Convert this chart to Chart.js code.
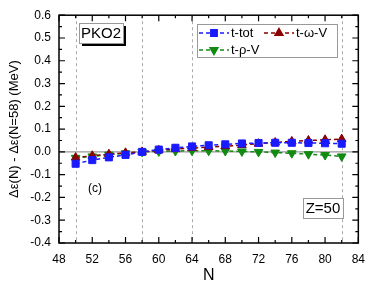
<!DOCTYPE html>
<html>
<head>
<meta charset="utf-8">
<script src="https://cdn.jsdelivr.net/npm/chart.js@4/dist/chart.umd.min.js"></script>
<style>
  body { margin: 0; background: #fff; }
  canvas { display: block; }
</style>
</head>
<body>
<canvas id="chart" width="374" height="285"></canvas>
<script>
var N = [50, 52, 54, 56, 58, 60, 62, 64, 66, 68, 70, 72, 74, 76, 78, 80, 82];
var tTot = [-0.052, -0.036, -0.024, -0.013, 0.0, 0.01, 0.018, 0.024, 0.029, 0.033, 0.037, 0.039, 0.04, 0.04, 0.039, 0.038, 0.036];
var tOmegaV = [-0.025, -0.017, -0.01, -0.004, 0.0, 0.007, 0.012, 0.017, 0.021, 0.025, 0.03, 0.036, 0.041, 0.046, 0.05, 0.053, 0.056];
var tRhoV = [-0.026, -0.02, -0.012, -0.006, 0.0, 0.002, 0.004, 0.005, 0.005, 0.004, 0.002, 0.0, -0.003, -0.006, -0.01, -0.014, -0.02];
var markLines = [50, 58, 64, 82];

function pts(ys) {
  return N.map(function (n, i) { return { x: n, y: ys[i] }; });
}

var font = "'Liberation Sans', Arial, sans-serif";

var decor = {
  id: "decor",
  beforeDatasetsDraw: function (chart) {
    var ctx = chart.ctx, a = chart.chartArea;
    var xs = chart.scales.x, ys = chart.scales.y;
    ctx.save();
    // vertical dashed lines
    ctx.strokeStyle = "#aaa";
    ctx.lineWidth = 1;
    ctx.setLineDash([3, 3]);
    markLines.forEach(function (v) {
      var px = Math.round(xs.getPixelForValue(v)) + 0.5;
      ctx.beginPath();
      ctx.moveTo(px, a.top);
      ctx.lineTo(px, a.bottom);
      ctx.stroke();
    });
    ctx.setLineDash([]);
    // zero line
    ctx.strokeStyle = "#999";
    ctx.lineWidth = 1.2;
    var py = ys.getPixelForValue(0);
    ctx.beginPath();
    ctx.moveTo(a.left, py);
    ctx.lineTo(a.right, py);
    ctx.stroke();
    ctx.restore();
  },
  afterDraw: function (chart) {
    var ctx = chart.ctx, a = chart.chartArea;
    var xs = chart.scales.x, ys = chart.scales.y;
    ctx.save();
    ctx.strokeStyle = "#000";
    ctx.lineWidth = 1.5;
    ctx.strokeRect(a.left, a.top, a.right - a.left, a.bottom - a.top);
    ctx.lineWidth = 1.2;
    // x ticks
    for (var v = 48; v <= 84; v += 2) {
      var px = xs.getPixelForValue(v);
      var len = (v % 4 === 0) ? 6 : 3;
      ctx.beginPath();
      ctx.moveTo(px, a.bottom); ctx.lineTo(px, a.bottom - len);
      ctx.moveTo(px, a.top); ctx.lineTo(px, a.top + len);
      ctx.stroke();
    }
    // y ticks
    for (var k = -8; k <= 12; k++) {
      var py = ys.getPixelForValue(k * 0.05);
      var l2 = (k % 2 === 0) ? 6 : 3;
      ctx.beginPath();
      ctx.moveTo(a.left, py); ctx.lineTo(a.left + l2, py);
      ctx.moveTo(a.right, py); ctx.lineTo(a.right - l2, py);
      ctx.stroke();
    }
    // PKO2 box with shadow
    ctx.fillStyle = "#000";
    ctx.fillRect(82, 26, 44, 20);
    ctx.fillStyle = "#fff";
    ctx.fillRect(79, 23, 44, 20);
    ctx.strokeStyle = "#999";
    ctx.lineWidth = 1;
    ctx.strokeRect(79.5, 23.5, 44, 20);
    ctx.fillStyle = "#000";
    ctx.font = "15px " + font;
    ctx.textAlign = "center";
    ctx.textBaseline = "middle";
    ctx.fillText("PKO2", 101, 34);
    // Z=50 box
    ctx.fillStyle = "#fff";
    ctx.fillRect(303, 198, 40, 20);
    ctx.strokeStyle = "#999";
    ctx.strokeRect(303.5, 198.5, 40, 20);
    ctx.fillStyle = "#000";
    ctx.fillText("Z=50", 323, 209);
    // (c)
    ctx.font = "12px " + font;
    ctx.fillText("(c)", 95, 189);
    // legend
    ctx.fillStyle = "#fff";
    ctx.fillRect(197, 24, 140, 33);
    ctx.strokeStyle = "#999";
    ctx.strokeRect(197.5, 24.5, 140, 33);
    var items = [
      { ds: 0, x: 199, y: 33, text: "t-tot" },
      { ds: 1, x: 264, y: 33, text: "t-\u03c9-V" },
      { ds: 2, x: 199, y: 50, text: "t-\u03c1-V" }
    ];
    items.forEach(function (it) {
      var d = chart.data.datasets[it.ds];
      ctx.strokeStyle = d.borderColor;
      ctx.lineWidth = 1.5;
      ctx.setLineDash(d.borderDash);
      ctx.beginPath();
      ctx.moveTo(it.x, it.y);
      ctx.lineTo(it.x + 30, it.y);
      ctx.stroke();
      ctx.setLineDash([]);
      ctx.fillStyle = d.backgroundColor;
      ctx.strokeStyle = d.backgroundColor;
      Chart.helpers.drawPoint(ctx, {
        pointStyle: d.pointStyle, radius: 4.5, rotation: d.pointRotation || 0, borderWidth: 1
      }, it.x + 15, it.y);
      ctx.fillStyle = "#000";
      ctx.font = "13px " + font;
      ctx.textAlign = "left";
      ctx.fillText(it.text, it.x + 32, it.y);
    });
    ctx.restore();
  }
};

new Chart(document.getElementById("chart"), {
  type: "line",
  data: {
    datasets: [
      {
        label: "t-tot", data: pts(tTot),
        borderColor: "#1a1aff", backgroundColor: "#1a1aff",
        borderDash: [4, 3], borderWidth: 1.5,
        pointStyle: "rect", pointRadius: 5, pointBorderWidth: 1
      },
      {
        label: "t-\u03c9-V", data: pts(tOmegaV),
        borderColor: "#8b0000", backgroundColor: "#8b0000",
        borderDash: [4, 3], borderWidth: 1.5,
        pointStyle: "triangle", pointRadius: 5, pointBorderWidth: 1
      },
      {
        label: "t-\u03c1-V", data: pts(tRhoV),
        borderColor: "#138a13", backgroundColor: "#138a13",
        borderDash: [4, 3], borderWidth: 1.5,
        pointStyle: "triangle", pointRotation: 180, pointRadius: 5, pointBorderWidth: 1
      }
    ]
  },
  options: {
    responsive: false,
    animation: false,
    layout: { padding: { top: 10, right: 11, left: 0, bottom: 0 } },
    plugins: { legend: { display: false }, tooltip: { enabled: false } },
    scales: {
      x: {
        type: "linear", min: 48, max: 84,
        grid: { display: false, drawTicks: false },
        border: { display: false },
        ticks: { stepSize: 4, padding: 9, color: "#000", font: { family: font, size: 12 } },
        title: { display: true, text: "N", color: "#000", padding: { top: 0, bottom: 0 }, font: { family: font, size: 16 } },
        afterFit: function (s) { s.height = 42; }
      },
      y: {
        type: "linear", min: -0.4, max: 0.6,
        grid: { display: false, drawTicks: false },
        border: { display: false },
        ticks: {
          stepSize: 0.1, padding: 8, color: "#000", font: { family: font, size: 12 },
          callback: function (v) { return (Math.round(v * 10) / 10).toFixed(1); }
        },
        title: { display: true, text: "\u0394\u03b5(N) - \u0394\u03b5(N=58) (MeV)", color: "#000", padding: { top: 7, bottom: 0 }, font: { family: font, size: 13 } },
        afterFit: function (s) { s.width = 59; }
      }
    }
  },
  plugins: [decor]
});
</script>
</body>
</html>
